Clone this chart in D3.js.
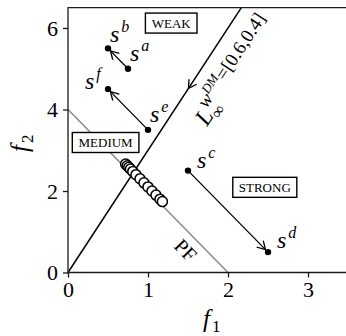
<!DOCTYPE html>
<html>
<head>
<meta charset="utf-8">
<script src="https://cdn.jsdelivr.net/npm/d3@7"></script>
<style>
  html, body { margin: 0; padding: 0; background: #ffffff; }
  svg { display: block; }
</style>
</head>
<body>
<svg id="chart" width="346" height="336"></svg>
<script>
// Objective-space values
const xTicks = [0, 1, 2, 3];
const yTicks = [0, 2, 4, 6];

const solutionIds = ['a', 'b', 'c', 'd', 'e', 'f'];
const solutionF1 = [0.75, 0.5, 1.5, 2.5, 1.0, 0.5];
const solutionF2 = [5.0, 5.5, 2.5, 0.5, 3.5, 4.5];

const moveFrom = ['a', 'e', 'c'];
const moveTo = ['b', 'f', 'd'];

// approximated front (open circles)
const frontF1 = [0.72, 0.74, 0.76, 0.78, 0.81, 0.85, 0.90, 0.95, 1.00, 1.05, 1.10, 1.15, 1.18];
const frontF2 = [2.66, 2.62, 2.58, 2.54, 2.48, 2.40, 2.30, 2.20, 2.10, 2.00, 1.90, 1.80, 1.74];

// true Pareto front
const paretoF1 = [0, 2];
const paretoF2 = [4, 0];

// reference direction of the weighted Chebyshev (L-infinity) scalarization
const refLineF1 = [0, 2.1667];
const refLineF2 = [0, 6.5];

const regionNames = ['WEAK', 'MEDIUM', 'STRONG'];
const regionF1 = [1.29, 0.47, 2.46];
const regionF2 = [6.12, 3.19, 2.09];

const FONT = '"Liberation Serif", "Times New Roman", serif';

const svg = d3.select('#chart');
const margin = { left: 68, top: 7.6, right: -2, bottom: 63.5 };
const W = 346, H = 336;

const x = d3.scaleLinear().domain([0, 3.5]).range([margin.left, W - margin.right]);
const y = d3.scaleLinear().domain([0, 6.5]).range([H - margin.bottom, margin.top]);

const ink = '#1a1a1a';

function addText(sel, size, italic) {
  return sel.append('text')
    .style('font-family', FONT)
    .style('font-size', size + 'px')
    .style('font-style', italic ? 'italic' : 'normal')
    .attr('fill', '#000');
}
function vHead(sel, ex, ey, ux, uy) {
  sel.append('path')
    .attr('d', `M${ex - 8 * ux + 4.6 * uy},${ey - 8 * uy - 4.6 * ux} L${ex},${ey} L${ex - 8 * ux - 4.6 * uy},${ey - 8 * uy + 4.6 * ux}`)
    .attr('fill', 'none').attr('stroke', '#000').attr('stroke-width', 1.3);
}

const plot = svg.append('g');

// Pareto front line
plot.append('line')
  .attr('x1', x(paretoF1[0])).attr('y1', y(paretoF2[0]))
  .attr('x2', x(paretoF1[1])).attr('y2', y(paretoF2[1]))
  .attr('stroke', '#8a8a8a').attr('stroke-width', 1.5);

// reference line
plot.append('line')
  .attr('x1', x(refLineF1[0])).attr('y1', y(refLineF2[0]))
  .attr('x2', x(refLineF1[1])).attr('y2', y(refLineF2[1]))
  .attr('stroke', '#000').attr('stroke-width', 1.5);

// arrow on the reference line pointing toward the origin
{
  const t = 0.695;
  const fx = refLineF1[0] + t * (refLineF1[1] - refLineF1[0]);
  const fy = refLineF2[0] + t * (refLineF2[1] - refLineF2[0]);
  const dx = x(refLineF1[0]) - x(refLineF1[1]);
  const dy = y(refLineF2[0]) - y(refLineF2[1]);
  const len = Math.hypot(dx, dy);
  vHead(plot, x(fx), y(fy), dx / len, dy / len);
}

// reference line label
{
  const ang = Math.atan2(y(refLineF2[1]) - y(refLineF2[0]), x(refLineF1[1]) - x(refLineF1[0])) * 180 / Math.PI;
  const g = plot.append('g').attr('transform', `translate(${x(1.7375)},${y(3.57)}) rotate(${ang})`);
  addText(g, 24, true).attr('x', 0).attr('y', 0).text('L');
  addText(g, 17, false).attr('x', 13).attr('y', 6).text('\u221E');
  const sup = addText(g, 19, false).attr('x', 15).attr('y', -10);
  sup.append('tspan').style('font-style', 'italic').text('w');
  sup.append('tspan').style('font-style', 'italic').style('font-size', '13px').attr('dy', -7).text('DM');
  sup.append('tspan').attr('dy', 7).text('=[0.6,0.4]');
}

// PF label
{
  const ang = Math.atan2(y(paretoF2[1]) - y(paretoF2[0]), x(paretoF1[1]) - x(paretoF1[0])) * 180 / Math.PI;
  const g = plot.append('g').attr('transform', `translate(${x(1.41)},${y(0.43)}) rotate(${ang})`);
  addText(g, 20, false).attr('text-anchor', 'middle').text('PF');
}

// movement arrows between solutions
const idx = id => solutionIds.indexOf(id);
moveFrom.forEach((from, i) => {
  const a = idx(from), b = idx(moveTo[i]);
  const x1 = x(solutionF1[a]), y1 = y(solutionF2[a]);
  const x2 = x(solutionF1[b]), y2 = y(solutionF2[b]);
  const len = Math.hypot(x2 - x1, y2 - y1);
  const ux = (x2 - x1) / len, uy = (y2 - y1) / len;
  const ex = x2 - ux * 3.5, ey = y2 - uy * 3.5;
  plot.append('line')
    .attr('x1', x1).attr('y1', y1).attr('x2', ex).attr('y2', ey)
    .attr('stroke', '#000').attr('stroke-width', 1.3);
  vHead(plot, ex, ey, ux, uy);
});

// solution dots
plot.selectAll('circle.sol')
  .data(solutionIds.map((id, i) => ({ id, f1: solutionF1[i], f2: solutionF2[i] })))
  .join('circle')
  .attr('class', 'sol')
  .attr('cx', d => x(d.f1)).attr('cy', d => y(d.f2))
  .attr('r', 3.2).attr('fill', '#000');

// solution labels  s^a ... s^f
const labelOffset = {
  a: [2, -8], b: [2, -6], c: [9, -3], d: [9, -4], e: [2, -8], f: [-23, 0]
};
solutionIds.forEach((id, i) => {
  const [dx, dy] = labelOffset[id];
  const t = addText(plot, 24, true)
    .attr('x', x(solutionF1[i]) + dx)
    .attr('y', y(solutionF2[i]) + dy);
  t.append('tspan').text('s');
  t.append('tspan').style('font-size', '16px').attr('dx', 2).attr('dy', -10).text(id);
});

// approximated front circles
plot.selectAll('circle.front')
  .data(frontF1.map((f1, i) => ({ f1, f2: frontF2[i] })))
  .join('circle')
  .attr('class', 'front')
  .attr('cx', d => x(d.f1)).attr('cy', d => y(d.f2))
  .attr('r', 5).attr('fill', '#fff')
  .attr('stroke', '#000').attr('stroke-width', 1.5);

// region labels in boxes
regionNames.forEach((name, i) => {
  const cx = x(regionF1[i]), cy = y(regionF2[i]);
  const t = addText(plot, 13, false)
    .attr('x', cx).attr('y', cy + 4.5)
    .attr('text-anchor', 'middle').text(name);
  const bb = t.node().getBBox();
  plot.insert('rect', () => t.node())
    .attr('x', cx - bb.width / 2 - 6).attr('y', cy - 10)
    .attr('width', bb.width + 12).attr('height', 20)
    .attr('fill', '#fff').attr('stroke', '#000').attr('stroke-width', 1.4);
});

// frame and axes
const frame = svg.append('g');
frame.append('path')
  .attr('d', `M${x(3.5) + 5},${y(6.5)} H${x(0)} V${y(0)} H${x(3.5) + 5}`)
  .attr('fill', 'none').attr('stroke', ink).attr('stroke-width', 1.3);

const xAxis = d3.axisBottom(x).tickValues(xTicks).tickSize(5).tickPadding(4).tickFormat(d3.format('d'));
const yAxis = d3.axisLeft(y).tickValues(yTicks).tickSize(5).tickPadding(5).tickFormat(d3.format('d'));

const gx = svg.append('g').attr('transform', `translate(0,${y(0)})`).call(xAxis);
const gy = svg.append('g').attr('transform', `translate(${x(0)},0)`).call(yAxis);
[gx, gy].forEach(g => {
  g.select('.domain').remove();
  g.selectAll('line').attr('stroke', ink).attr('stroke-width', 1.3);
  g.selectAll('text').style('font-family', FONT).style('font-size', '22px').attr('fill', '#000');
});

// axis titles
const xt = addText(svg, 25, true).attr('x', 203).attr('y', 327);
xt.append('tspan').text('f');
xt.append('tspan').style('font-size', '17px').style('font-style', 'normal').attr('dx', 2).attr('dy', 5).text('1');

const yt = addText(svg, 25, true).attr('transform', 'translate(28,152) rotate(-90)');
yt.append('tspan').text('f');
yt.append('tspan').style('font-size', '17px').style('font-style', 'normal').attr('dx', 2).attr('dy', 5).text('2');
</script>
</body>
</html>
